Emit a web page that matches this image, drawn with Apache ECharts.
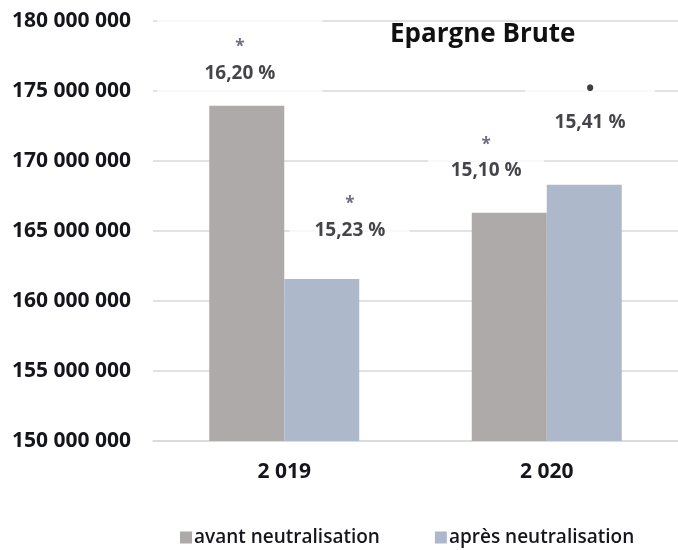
<!DOCTYPE html>
<html>
<head>
<meta charset="utf-8">
<script src="https://cdn.jsdelivr.net/npm/echarts@6/dist/echarts.min.js"></script>
<style>html,body{margin:0;padding:0;background:#fff;}#c{width:678px;height:550px;}</style>
</head>
<body>
<div id="c"></div>
<script>
const categories = ['2 019', '2 020'];
const avantValues = [173930000, 166290000];
const apresValues = [161570000, 168290000];
const pctLabels = ['16,20 %', '15,23 %', '15,10 %', '15,41 %'];
const pctMarks = ['*', '*', '*', '•'];
const yTicks = [150000000, 155000000, 160000000, 165000000, 170000000, 175000000, 180000000];

const FONT = 'Open Sans';
const TXT = '#15151c';
function fmt(v){ return String(v).replace(/\B(?=(\d{3})+(?!\d))/g, ' '); }

// annotation placement (x in category units across the plot, y in axis units)
const labelPlace = [
  {x: 0.331, y: 177300000, w: 165, pv: 10, mh: 30},
  {x: 0.750, y: 166100000, w: 120, pv: 4, mh: 30},
  {x: 1.269, y: 170350000, w: 116, pv: 4, mh: 30},
  {x: 1.665, y: 174000000, w: 130, pv: 3, mh: 36}
];

const chart = echarts.init(document.getElementById('c'));
chart.setOption({
  animation: false,
  backgroundColor: '#fff',
  title: {
    text: 'Epargne Brute', left: 385, top: 17,
    textStyle: {fontFamily: FONT, fontSize: 26, fontWeight: 'bold', color: '#111'}
  },
  legend: {
    left: 175, top: 523, itemWidth: 12, itemHeight: 12, itemGap: 55, icon: 'rect',
    textStyle: {fontFamily: FONT, fontSize: 19, fontWeight: 600, color: TXT, padding: [0,0,0,-3]},
    data: ['avant neutralisation', 'après neutralisation']
  },
  grid: {left: 153, right: 0, top: 20.7, bottom: 109},
  xAxis: [
    {type: 'category', data: categories,
     axisLine: {show: true, lineStyle: {color: '#d9d9d9', width: 1.5}},
     axisTick: {show: false},
     axisLabel: {fontFamily: FONT, fontSize: 21, fontWeight: 'bold', color: TXT, margin: 21}},
    {type: 'value', min: 0, max: 2, show: false}
  ],
  yAxis: {
    type: 'value', min: yTicks[0], max: yTicks[yTicks.length-1], interval: yTicks[1]-yTicks[0],
    axisLine: {show: false}, axisTick: {show: false},
    splitLine: {lineStyle: {color: '#d9d9d9', width: 1.5}},
    axisLabel: {fontFamily: FONT, fontSize: 21, fontWeight: 'bold', color: TXT, margin: 22, formatter: fmt}
  },
  series: [
    {name: 'avant neutralisation', type: 'bar', data: avantValues, barWidth: 75, barGap: '0%',
     itemStyle: {color: '#aeaaa9'}},
    {name: 'après neutralisation', type: 'bar', data: apresValues, barWidth: 75,
     itemStyle: {color: '#adb9cb'}},
    {type: 'scatter', xAxisIndex: 1, symbolSize: 0, z: 5, silent: true,
     data: pctLabels.map((t, i) => ({
       value: [labelPlace[i].x, labelPlace[i].y],
       label: {
         show: true, position: 'inside', backgroundColor: '#fff',
         width: labelPlace[i].w, padding: [labelPlace[i].pv, 0],
         formatter: '{m|' + pctMarks[i] + '}\n{p|' + t + '}',
         rich: {
           m: {fontFamily: FONT, fontSize: i === 3 ? 22 : 17, fontWeight: 'bold', color: i === 3 ? '#111' : '#4f4360', lineHeight: labelPlace[i].mh, align: 'center', width: labelPlace[i].w, padding: [i === 3 ? 0 : 8, 0, 0, 0]},
           p: {fontFamily: FONT, fontSize: 19, fontWeight: 'bold', color: TXT, lineHeight: 30, align: 'center', width: labelPlace[i].w}
         }
       }
     }))}
  ]
});
</script>
</body>
</html>
